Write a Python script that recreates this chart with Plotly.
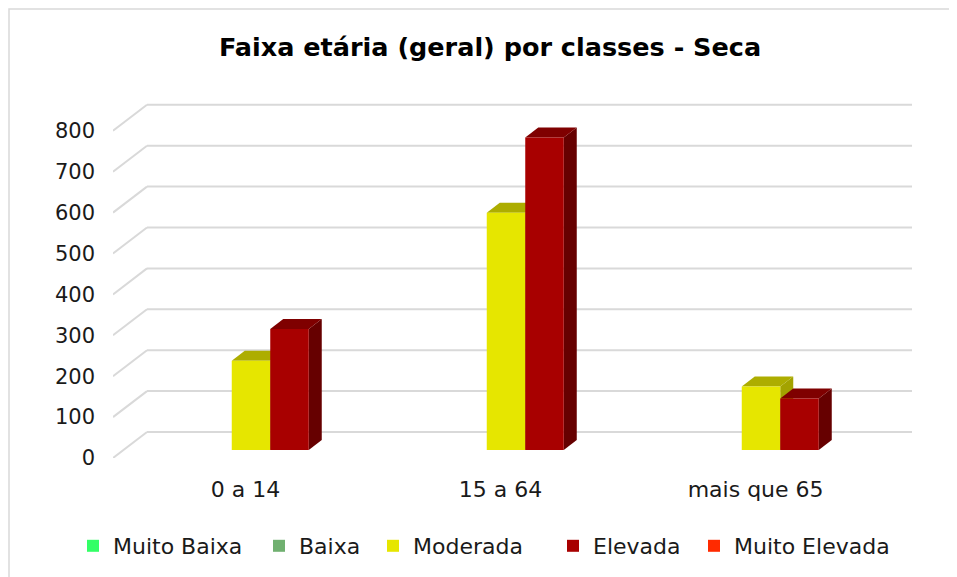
import plotly.graph_objects as go

# ---- data ----
categories = ["0 a 14", "15 a 64", "mais que 65"]
series_names = ["Muito Baixa", "Baixa", "Moderada", "Elevada", "Muito Elevada"]
muito_baixa = [0, 0, 0]
baixa = [0, 0, 0]
moderada = [218, 580, 155]
elevada = [296, 764, 126]
muito_elevada = [0, 0, 0]
y_ticks = [0, 100, 200, 300, 400, 500, 600, 700, 800]

series_values = [muito_baixa, baixa, moderada, elevada, muito_elevada]
front_colors = ["#33FF66", "#70B070", "#E6E600", "#A80000", "#FF2A00"]
top_colors = ["#22BB44", "#508050", "#ADAD00", "#7F0000", "#B81E00"]
side_colors = ["#1E9E3C", "#456E45", "#A3A300", "#660000", "#A01A00"]

# ---- geometry (pseudo-3D like Excel); page has an 8px body margin ----
OFF = 8
W, H = 949, 569
L = 113 - OFF
T = 100 - OFF
R = W - (912 - OFF)
B = H - (458 - OFF)
plot_w = W - L - R
plot_h = H - T - B
px_per_x = 255.0           # pixels per category
px_per_y = 0.409           # pixels per value unit
x_range = [-0.5, -0.5 + plot_w / px_per_x]
y_range = [0, plot_h / px_per_y]

back_dx = 34 / px_per_x    # depth of the floor
back_dy = 26 / px_per_y
bar_shift_x = 10.5 / px_per_x
bar_base = 8 / px_per_y
bar_dx = 13 / px_per_x     # depth of each bar
bar_dy = 10 / px_per_y
bargap = 0.245
n = len(series_names)
bw = (1 - bargap) / n

idx = list(range(len(categories)))
font = "DejaVu Sans"

def px_x(page_x):
    return (page_x - OFF - L) / plot_w

def px_y(page_y):
    return (H - B - (page_y - OFF)) / plot_h

def cx(page_x):
    return (page_x - OFF) / W

def cy(page_y):
    return 1 - (page_y - OFF) / H

legend_square_centers = [93, 279, 393, 573, 714]   # page pixels

fig = go.Figure()
for s, (name, vals) in enumerate(zip(series_names, series_values)):
    fig.add_trace(go.Bar(
        name=name,
        x=[i + bar_shift_x for i in idx],
        y=vals,
        base=[bar_base] * len(vals),
        marker=dict(color=front_colors[s], line=dict(width=0)),
        hoverinfo="skip",
        legend="legend" if s == 0 else f"legend{s + 1}",
    ))

shapes = []
for v in y_ticks:
    shapes.append(dict(type="line", xref="x", yref="y", layer="below",
                       x0=x_range[0], y0=v, x1=x_range[0] + back_dx, y1=v + back_dy,
                       line=dict(color="#D9D9D9", width=2)))
    shapes.append(dict(type="line", xref="x", yref="y", layer="below",
                       x0=x_range[0] + back_dx, y0=v + back_dy, x1=x_range[1], y1=v + back_dy,
                       line=dict(color="#D9D9D9", width=2)))

for s, vals in enumerate(series_values):
    for i, v in zip(idx, vals):
        if v <= 0:
            continue
        c = i + bar_shift_x + (s - (n - 1) / 2) * bw
        x0, x1 = c - bw / 2, c + bw / 2
        yb, yt = bar_base, bar_base + v
        side = (f"M {x1},{yb} L {x1 + bar_dx},{yb + bar_dy} L {x1 + bar_dx},{yt + bar_dy} "
                f"L {x1},{yt} Z")
        top = (f"M {x0},{yt} L {x0 + bar_dx},{yt + bar_dy} L {x1 + bar_dx},{yt + bar_dy} "
               f"L {x1},{yt} Z")
        shapes.append(dict(type="path", xref="x", yref="y", layer="below", path=side,
                           fillcolor=side_colors[s], line=dict(width=0)))
        shapes.append(dict(type="path", xref="x", yref="y", layer="below", path=top,
                           fillcolor=top_colors[s], line=dict(width=0)))

# chart-area border (top and left edges)
shapes.append(dict(type="rect", xref="paper", yref="paper", layer="above",
                   x0=px_x(OFF + 1), x1=px_x(W + OFF + 20),
                   y0=px_y(H + OFF + 20), y1=px_y(OFF + 1),
                   line=dict(color="#D9D9D9", width=1.5), fillcolor="rgba(0,0,0,0)"))

legend_common = dict(orientation="h", xanchor="left", yanchor="middle",
                     xref="container", yref="container",
                     font=dict(family=font, size=22, color="#1a1a1a"),
                     itemwidth=30, bgcolor="rgba(0,0,0,0)")
legends = {}
for s in range(n):
    key = "legend" if s == 0 else f"legend{s + 1}"
    legends[key] = dict(legend_common, x=cx(legend_square_centers[s] - 20), y=cy(546))

fig.update_layout(
    width=W, height=H,
    margin=dict(l=L, r=R, t=T, b=B, autoexpand=False),
    paper_bgcolor="white", plot_bgcolor="white",
    barmode="group", bargap=bargap, bargroupgap=0,
    title=dict(text="<b>Faixa etária (geral) por classes - Seca</b>",
               xref="container", yref="container",
               x=cx(490), xanchor="center", y=cy(47), yanchor="middle",
               font=dict(family=font, size=25.5, color="#000000")),
    xaxis=dict(range=x_range, tickvals=[i + 0.02 for i in idx], ticktext=categories,
               showgrid=False, zeroline=False, showline=False, ticks="",
               ticklabelstandoff=16, automargin=False,
               tickfont=dict(family=font, size=22, color="#1a1a1a")),
    yaxis=dict(range=y_range, tickvals=y_ticks, ticktext=[str(v) for v in y_ticks],
               showgrid=False, zeroline=False, showline=False, ticks="",
               ticklabelstandoff=17, automargin=False,
               tickfont=dict(family=font, size=21, color="#1a1a1a")),
    shapes=shapes,
    showlegend=True,
    **legends,
)

fig.write_html("out.html")
